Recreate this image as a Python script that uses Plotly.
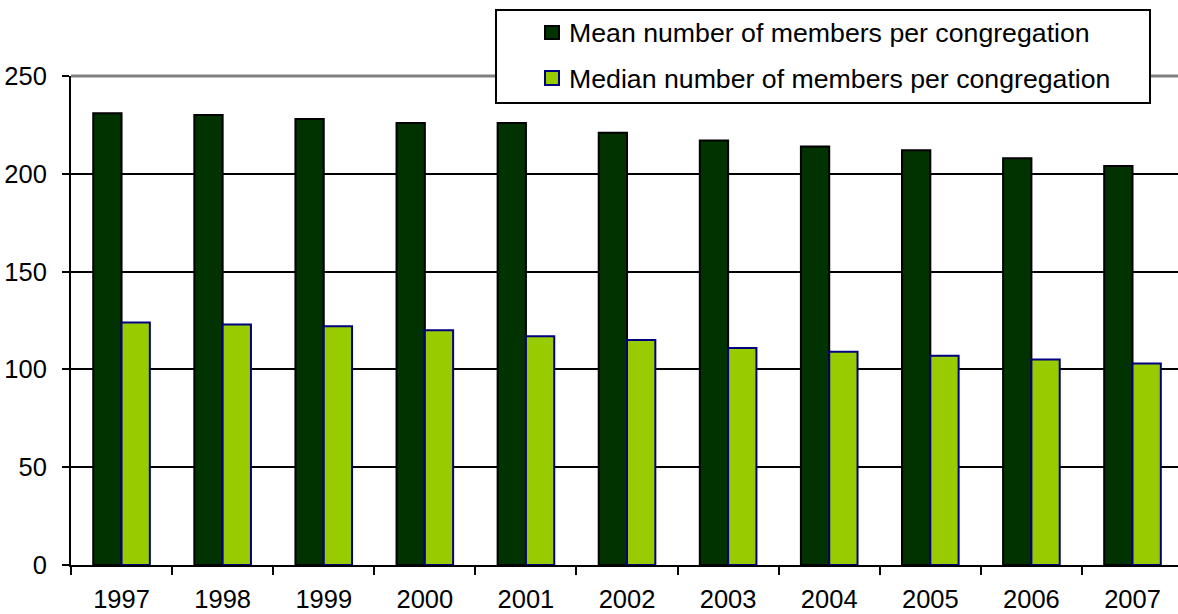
import plotly.graph_objects as go

# Congregation size by year
years = ["1997", "1998", "1999", "2000", "2001", "2002", "2003", "2004", "2005", "2006", "2007"]
mean_members = [231, 230, 228, 226, 226, 221, 217, 214, 212, 208, 204]
median_members = [124, 123, 122, 120, 117, 115, 111, 109, 107, 105, 103]
y_ticks = [0, 50, 100, 150, 200, 250]

series_names = ["Mean number of members per congregation",
                "Median number of members per congregation"]
fill_colors = ["#003300", "#99CC00"]
edge_colors = ["#000000", "#000080"]

W, H = 1178, 614
L, R, T, B = 71, 0, 76, 49
PW, PH = W - L - R, H - T - B
FONT = "Liberation Sans, Arial, sans-serif"


def px_x(p):
    return (p - L) / PW


def px_y(p):
    return (H - B - p) / PH


fig = go.Figure()
for name, vals, fc, ec in zip(series_names, [mean_members, median_members],
                              fill_colors, edge_colors):
    fig.add_trace(go.Bar(
        x=years, y=vals, name=name,
        marker=dict(color=fc, line=dict(color=ec, width=2)),
        showlegend=False,
    ))

# plot-area top border at 250
fig.add_shape(type="line", xref="paper", yref="paper", x0=0, x1=1, y0=1, y1=1,
              line=dict(color="#808080", width=3), layer="above")

# legend box
fig.add_shape(type="rect", xref="paper", yref="paper",
              x0=px_x(496), x1=px_x(1150), y0=px_y(103), y1=px_y(10),
              line=dict(color="#000000", width=2), fillcolor="#FFFFFF", layer="above")
rows = [(25, 40), (70, 86)]
for (top, bot), name, fc, ec in zip(rows, series_names, fill_colors, edge_colors):
    fig.add_shape(type="rect", xref="paper", yref="paper",
                  x0=px_x(545), x1=px_x(559), y0=px_y(bot - 1), y1=px_y(top + 1),
                  line=dict(color=ec, width=2), fillcolor=fc, layer="above")
    fig.add_annotation(xref="paper", yref="paper", x=px_x(567), y=px_y((top + bot) / 2 + 1),
                       text=name, showarrow=False, xanchor="left", yanchor="middle",
                       font=dict(family=FONT, size=26.7, color="#000000"))

fig.update_layout(
    width=W, height=H,
    margin=dict(l=L, r=R, t=T, b=B, pad=0),
    paper_bgcolor="#FFFFFF", plot_bgcolor="#FFFFFF",
    barmode="group", bargap=0.44, bargroupgap=0,
    font=dict(family=FONT, size=25.5, color="#000000"),
)
fig.update_xaxes(
    type="category", range=[-0.5, 10.45],
    showline=True, linecolor="#000000", linewidth=2,
    ticks="outside", tickson="boundaries", ticklen=8, tickwidth=2, tickcolor="#000000",
    ticklabelstandoff=10, showgrid=False,
    tickfont=dict(family=FONT, size=25.5, color="#000000"),
)
fig.update_yaxes(
    range=[0, 250], tickvals=y_ticks,
    showline=True, linecolor="#000000", linewidth=2,
    ticks="outside", ticklen=7, tickwidth=2, tickcolor="#000000",
    ticklabelstandoff=10,
    showgrid=True, gridcolor="#000000", gridwidth=2, zeroline=False,
    tickfont=dict(family=FONT, size=25.5, color="#000000"),
)

fig.write_html("out.html")
